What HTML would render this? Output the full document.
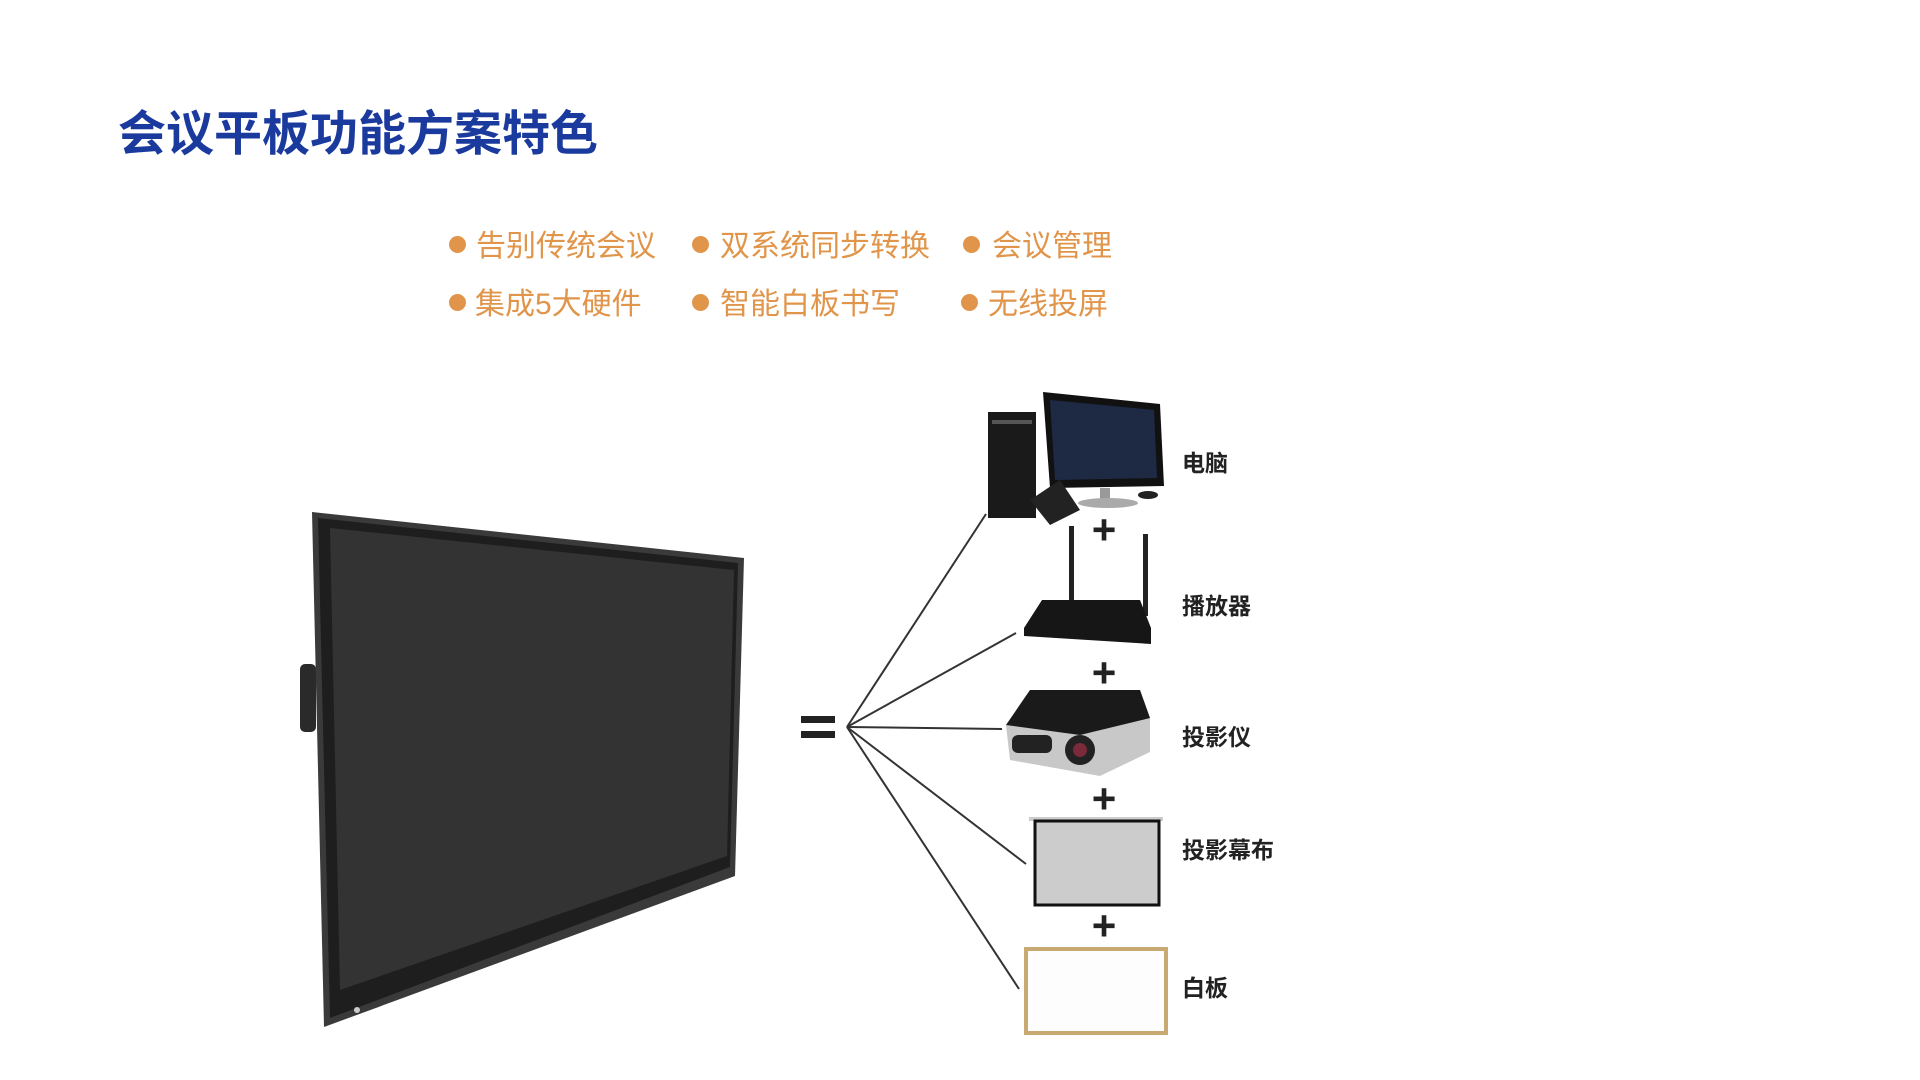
<!DOCTYPE html>
<html><head><meta charset="utf-8"><style>
html,body{margin:0;padding:0;background:#fff;}
body{width:1920px;height:1080px;position:relative;overflow:hidden;font-family:"Liberation Sans","Noto Sans CJK SC",sans-serif;}
.t{position:absolute;white-space:nowrap;}
.title{left:118px;top:94px;font-size:48px;font-weight:bold;color:#1b3a9e;}
.b{font-size:30px;color:#e0954a;line-height:1;}
.dot{position:absolute;width:17px;height:17px;border-radius:50%;background:#e0954a;}
.lab{font-size:23px;color:#222;font-weight:bold;}
</style></head><body>
<div class="t title">会议平板功能方案特色</div>

<div class="dot" style="left:449px;top:236px"></div><div class="t b" style="left:476px;top:232px">告别传统会议</div>
<div class="dot" style="left:692px;top:236px"></div><div class="t b" style="left:720px;top:232px">双系统同步转换</div>
<div class="dot" style="left:963px;top:236px"></div><div class="t b" style="left:992px;top:232px">会议管理</div>
<div class="dot" style="left:449px;top:294px"></div><div class="t b" style="left:475px;top:290px">集成5大硬件</div>
<div class="dot" style="left:692px;top:294px"></div><div class="t b" style="left:720px;top:290px">智能白板书写</div>
<div class="dot" style="left:961px;top:294px"></div><div class="t b" style="left:988px;top:290px">无线投屏</div>

<svg style="position:absolute;left:0;top:0" width="1920" height="1080">
  <rect x="300" y="664" width="16" height="68" rx="5" fill="#2a2a2a"/>
  <polygon points="312,512 744,558 735,876 324,1027" fill="#3a3a3a"/>
  <polygon points="318,518 738,563 730,867 330,1018" fill="#1e1e1e"/>
  <polygon points="330,528 734,570 727,856 340,990" fill="#333"/>
  <circle cx="357" cy="1010" r="3" fill="#ccc"/>
  <rect x="801" y="716" width="34" height="7" fill="#222"/>
  <rect x="801" y="731" width="34" height="7" fill="#222"/>
  <g stroke="#333" stroke-width="2" fill="none">
    <line x1="847" y1="727" x2="986" y2="514"/>
    <line x1="847" y1="727" x2="1016" y2="633"/>
    <line x1="847" y1="727" x2="1002" y2="729"/>
    <line x1="847" y1="727" x2="1026" y2="864"/>
    <line x1="847" y1="727" x2="1019" y2="989"/>
  </g>
  <rect x="988" y="412" width="48" height="106" fill="#1a1a1a"/>
  <rect x="992" y="420" width="40" height="4" fill="#555"/>
  <polygon points="1043,392 1160,404 1164,486 1050,488" fill="#111"/>
  <polygon points="1050,400 1154,410 1157,478 1055,480" fill="#1e2a44"/>
  <rect x="1100" y="488" width="10" height="14" fill="#999"/>
  <ellipse cx="1108" cy="503" rx="30" ry="5" fill="#aaa"/>
  <polygon points="1030,500 1060,480 1080,510 1050,525" fill="#222"/>
  <ellipse cx="1148" cy="495" rx="10" ry="4" fill="#222"/>
  <rect x="1069" y="526" width="5" height="82" fill="#222"/>
  <rect x="1143" y="534" width="5" height="82" fill="#222"/>
  <polygon points="1024,628 1042,600 1140,600 1151,628 1151,644 1024,636" fill="#161616"/>
  <polygon points="1006,725 1030,690 1140,690 1150,718 1150,752 1100,776 1010,760" fill="#c8c8c8"/>
  <polygon points="1006,725 1030,690 1140,690 1150,718 1080,735" fill="#1a1a1a"/>
  <circle cx="1080" cy="750" r="15" fill="#222"/><circle cx="1080" cy="750" r="7" fill="#7a2a3a"/>
  <rect x="1012" y="735" width="40" height="18" rx="6" fill="#222"/>
  <rect x="1029" y="817" width="134" height="4" fill="#ccc"/>
  <rect x="1035" y="821" width="124" height="84" fill="#ccc" stroke="#111" stroke-width="3"/>
  <rect x="1026" y="949" width="140" height="84" fill="#fdfdfd" stroke="#c8a971" stroke-width="4"/>
  <g font-family="Liberation Sans,sans-serif" font-size="42" font-weight="bold" fill="#222" text-anchor="middle">
    <text x="1104" y="544">+</text><text x="1104" y="687">+</text>
    <text x="1104" y="813">+</text><text x="1104" y="940">+</text>
  </g>
</svg>

<div class="t lab" style="left:1182px;top:444px">电脑</div>
<div class="t lab" style="left:1182px;top:587px">播放器</div>
<div class="t lab" style="left:1182px;top:718px">投影仪</div>
<div class="t lab" style="left:1182px;top:831px">投影幕布</div>
<div class="t lab" style="left:1182px;top:969px">白板</div>
</body></html>
